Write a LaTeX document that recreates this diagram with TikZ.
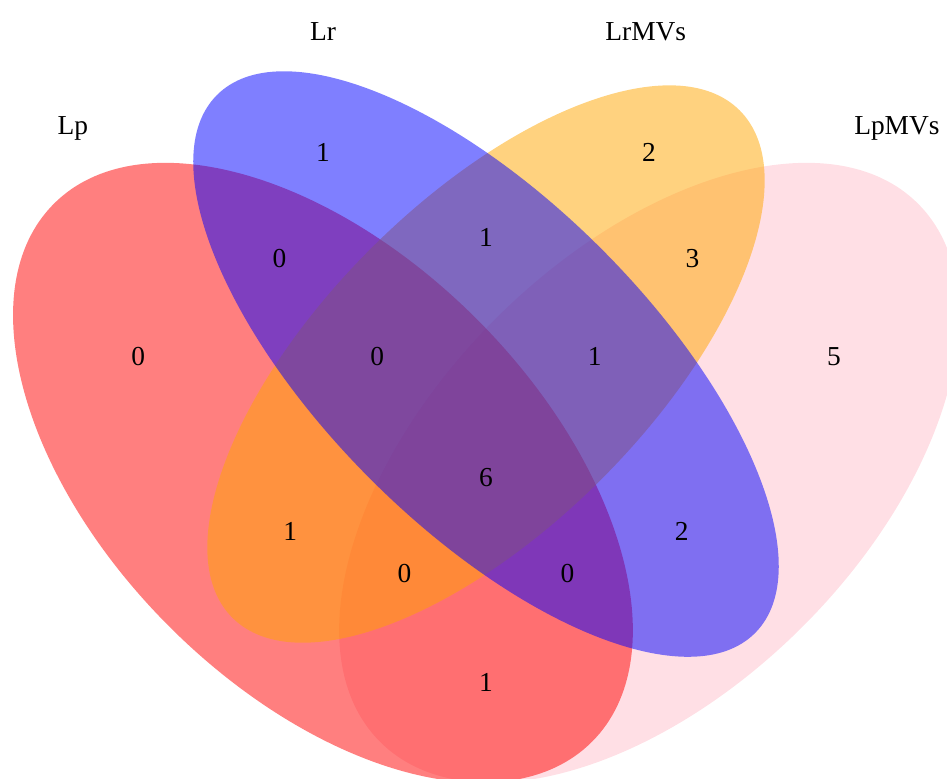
\documentclass[tikz,border=0pt]{standalone}
\usepackage{fontspec}
\setmainfont{Liberation Serif}
\definecolor{lpred}{HTML}{FF0000}
\definecolor{lrblue}{HTML}{0000FF}
\definecolor{lrmvorange}{HTML}{FFA500}
\definecolor{lpmvpink}{HTML}{FFC0CB}
\begin{document}
\begin{tikzpicture}[scale=10.87, every node/.style={scale=1, font=\fontsize{7.8}{9}\selectfont},
        setfill/.style={fill=#1, fill opacity=.5}]
            \useasboundingbox (0.0529,0.1891) rectangle (0.9241,0.9049);
            \clip (0.0529,0.1891) rectangle (0.9241,0.9049);
            % sets, back to front
            \fill[setfill=lpmvpink, shift={(.65,.47)}, rotate=45] (0,0) 
            ellipse [x radius=.35, y radius=.2];
            \fill[setfill=lpred, shift={(.35,.47)}, rotate=135] (0,0) 
            ellipse [x radius=.35, y radius=.2];
            \fill[setfill=lrmvorange, shift={(.5,.57)}, rotate=45] (0,0) 
            ellipse [x radius=.33, y radius=.15];
            \fill[setfill=lrblue, shift={(.5,.57)}, rotate=135] (0,0) 
            ellipse [x radius=.35, y radius=.15];
            % set names
            \node (lp) at (.12,.787) {Lp};
            \node (lr) at (.35,.876) {Lr};
            \node (lrmv) at (.647,.876) {LrMVs};
            \node (lpmv) at (.878,.787) {LpMVs};
            % counts
            \node (nlp) at (.18,.577) {0};
            \node (nlr) at (.35,.765) {1};
            \node (nlrmv) at (.65,.765) {2};
            \node (nlpmv) at (.82,.577) {5};
            \node (nlplr) at (.31,.667) {0};
            \node (nlrlrmv) at (.5,.686) {1};
            \node (nlrmvlpmv) at (.69,.667) {3};
            \node (nlplrlrmv) at (.4,.577) {0};
            \node (nlrlrmvlpmv) at (.6,.577) {1};
            \node (nall) at (.5,.466) {6};
            \node (nlplrmv) at (.32,.416) {1};
            \node (nlrlpmv) at (.68,.416) {2};
            \node (nlplrmvlpmv) at (.425,.377) {0};
            \node (nlplrlpmv) at (.575,.377) {0};
            \node (nlplpmv) at (.5,.277) {1};
        \end{tikzpicture}
\end{document}
